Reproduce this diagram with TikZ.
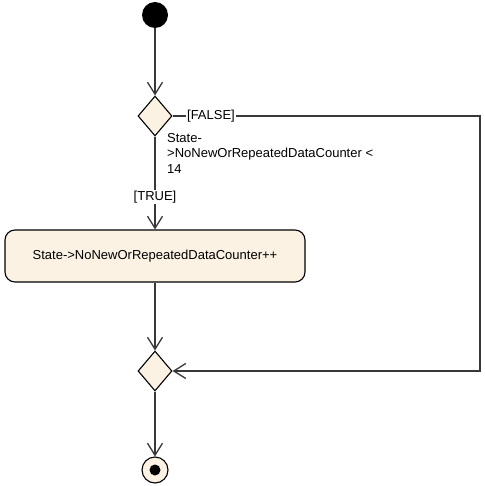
\documentclass[tikz,border=0pt]{standalone}
\usepackage{fontspec}
\setmainfont{Liberation Sans}
\usetikzlibrary{shapes.geometric, arrows.meta, positioning}
\definecolor{umlfill}{RGB}{252,242,228}
\definecolor{umlline}{RGB}{56,56,56}
\tikzset{
  initial/.style={
    circle,
    fill=black,
    minimum size=26pt,
    inner sep=0pt
    },
  decision/.style={
    diamond,
    draw=black,
    line width=1.1pt,
    fill=umlfill,
    minimum width=34pt,
    minimum height=40pt,
    inner sep=0pt
    },
  action/.style={
    rectangle,
    rounded corners=10pt,
    minimum width=300pt,
    minimum height=52pt,
    align=center,
    draw=black,
    line width=1.1pt,
    fill=umlfill
    },
  final/.style={
    circle,
    draw=black,
    line width=1.1pt,
    fill=umlfill,
    minimum size=26pt,
    inner sep=0pt,
    path picture={\fill[black] (path picture bounding box.center) circle (5.5pt);}
    },
  guard/.style={fill=white, inner sep=1pt},
  arrow/.style={draw=umlline, line width=1.3pt, -{Straight Barb[length=12pt, width=15pt]}},
}
\begin{document}
\begin{tikzpicture}[
  x=1pt, y=-1pt,
  font=\fontsize{13}{15.5}\selectfont
  ]
\useasboundingbox (0,0) rectangle (484,486);
\node (start) [initial] at (155,15) {};
\node (check) [decision] at (155,116) {};
\node (count) [action] at (155,256) {State->NoNewOrRepeatedDataCounter++};
\node (merge) [decision] at (155,371) {};
\node (stop) [final] at (155,470) {};
\node (cond) [anchor=north west, align=left, inner sep=0pt] at (167,133) {State-\\>NoNewOrRepeatedDataCounter <\\14};
\coordinate (farup) at (480,116);
\coordinate (fardown) at (480,371);
\draw[arrow] (start) -- (check);
\draw[arrow] (check) -- node[guard, pos=0.65] {[TRUE]} (count);
\draw[arrow] (check.east) -- node[guard, pos=0.125] {[FALSE]} (farup) -- (fardown) -- (merge.east);
\draw[arrow] (count) -- (merge);
\draw[arrow] (merge) -- (stop);
\end{tikzpicture}
\end{document}
